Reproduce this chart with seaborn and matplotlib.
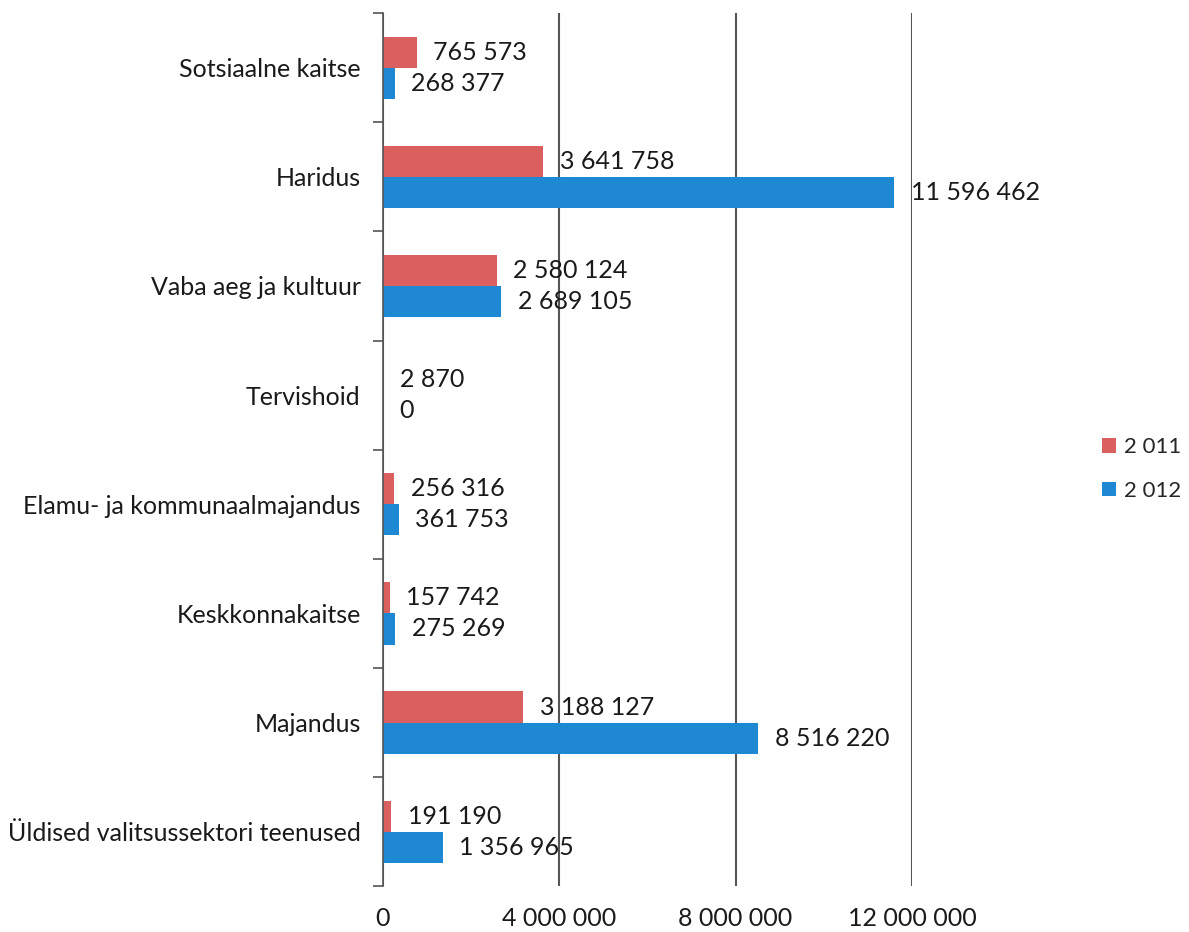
import pandas as pd
import seaborn as sns
import matplotlib.pyplot as plt
from matplotlib.ticker import FixedLocator

# budget lines per sector, 2011 vs 2012
categories = ['Sotsiaalne kaitse', 'Haridus', 'Vaba aeg ja kultuur', 'Tervishoid',
              'Elamu- ja kommunaalmajandus', 'Keskkonnakaitse', 'Majandus',
              'Üldised valitsussektori teenused']
values_2011 = [765573, 3641758, 2580124, 2870, 256316, 157742, 3188127, 191190]
values_2012 = [268377, 11596462, 2689105, 0, 361753, 275269, 8516220, 1356965]
years = ['2 011', '2 012']
x_ticks = [0, 4000000, 8000000, 12000000]

df = pd.DataFrame({
    'category': categories * 2,
    'value': values_2011 + values_2012,
    'year': [years[0]] * len(categories) + [years[1]] * len(categories),
})

sns.set_style('white')
plt.rcParams['font.family'] = ['Lato', 'DejaVu Sans']

fig = plt.figure(figsize=(11.89, 9.32), dpi=100)
ax = fig.add_axes([0.322, 0.049, 0.445, 0.937])

sns.barplot(data=df, y='category', x='value', hue='year', order=categories,
            hue_order=years, palette=['#D9605E', '#1E88D2'], orient='h',
            width=0.57, saturation=1, linewidth=0, ax=ax)

def fmt(v):
    return f'{v:,}'.replace(',', ' ')

for cont, vals in zip(ax.containers, [values_2011, values_2012]):
    ax.bar_label(cont, labels=[fmt(v) for v in vals], padding=12,
                 fontsize=18, color='#1a1a1a', clip_on=False)

ax.set_xlim(0, 12000000)
ax.set_ylim(len(categories) - 0.5, -0.5)
ax.set_xticks(x_ticks)
ax.set_xticklabels([fmt(t) for t in x_ticks], fontsize=18, color='#1a1a1a')
ax.tick_params(axis='x', length=0, pad=15)
ax.tick_params(axis='y', which='major', length=0, pad=16, labelsize=18,
               labelcolor='#1a1a1a')
ax.yaxis.set_minor_locator(FixedLocator([i - 0.5 for i in range(len(categories) + 1)]))
ax.tick_params(axis='y', which='minor', length=7, width=1.2, color='#555555', left=True)
ax.grid(axis='x', color='#555555', linewidth=1.5)
ax.set_axisbelow(True)
for side in ['top', 'right', 'bottom']:
    ax.spines[side].set_visible(False)
ax.spines['left'].set_color('#555555')
ax.spines['left'].set_linewidth(1.2)
ax.set_xlabel('')
ax.set_ylabel('')

leg = ax.legend(loc='center left', bbox_to_anchor=(1.36, 0.478), frameon=False,
                fontsize=16, handlelength=0.62, handleheight=0.62, handletextpad=0.35,
                labelspacing=1.05, borderpad=0, borderaxespad=0)

fig.savefig('out.png', dpi=100)
